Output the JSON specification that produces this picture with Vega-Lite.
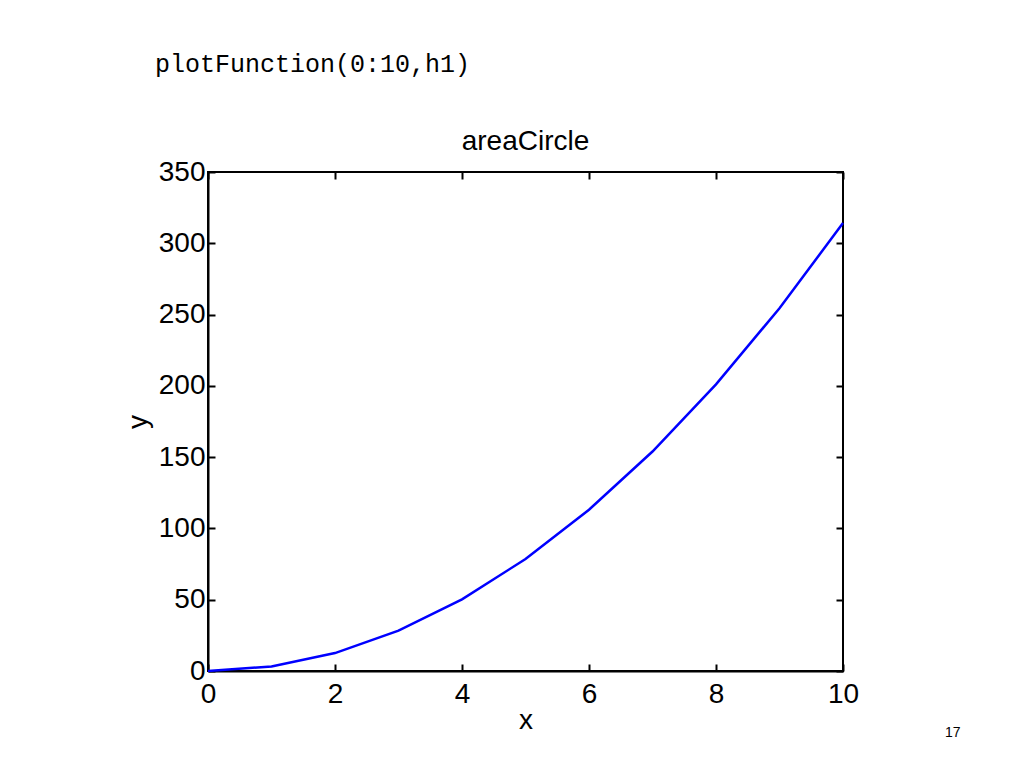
{
  "$schema": "https://vega.github.io/schema/vega-lite/v6.json",
  "width": 635,
  "height": 499,
  "autosize": {"type": "none"},
  "padding": {"left": 208, "top": 172, "right": 181, "bottom": 97},
  "background": "white",
  "datasets": {
    "curve": [
      {"x": 0, "y": 0},
      {"x": 1, "y": 3.14},
      {"x": 2, "y": 12.57},
      {"x": 3, "y": 28.27},
      {"x": 4, "y": 50.27},
      {"x": 5, "y": 78.54},
      {"x": 6, "y": 113.1},
      {"x": 7, "y": 153.94},
      {"x": 8, "y": 201.06},
      {"x": 9, "y": 254.47},
      {"x": 10, "y": 314.16}
    ],
    "notes": [
      {"x": 5, "y": 371, "label": "areaCircle", "kind": "plottitle"},
      {"x": 11.73, "y": -43.5, "label": "17", "kind": "page"}
    ]
  },
  "title": {
    "text": "plotFunction(0:10,h1)",
    "font": "Liberation Mono",
    "fontSize": 25,
    "fontWeight": "normal",
    "color": "black",
    "anchor": "start",
    "frame": "group",
    "dx": -53,
    "offset": 51
  },
  "config": {
    "view": {"stroke": "black", "strokeWidth": 2},
    "axis": {
      "grid": false,
      "domainColor": "black",
      "domainWidth": 2,
      "tickColor": "black",
      "tickWidth": 2,
      "labelFont": "Liberation Sans",
      "labelFontSize": 28,
      "labelColor": "black",
      "titleFont": "Liberation Sans",
      "titleFontSize": 28,
      "titleFontWeight": "normal",
      "titleColor": "black"
    }
  },
  "layer": [
    {
      "data": {"name": "curve"},
      "mark": {"type": "line", "color": "#0000FF", "strokeWidth": 2.5},
      "encoding": {
        "x": {
          "field": "x",
          "type": "quantitative",
          "scale": {"domain": [0, 10], "nice": false},
          "axis": {
            "orient": "bottom",
            "values": [0, 2, 4, 6, 8, 10],
            "tickSize": -7,
            "labelPadding": 16,
            "labelFlush": false,
            "title": "x",
            "titlePadding": -2
          }
        },
        "y": {
          "field": "y",
          "type": "quantitative",
          "scale": {"domain": [0, 350], "nice": false},
          "axis": {
            "orient": "left",
            "values": [0, 50, 100, 150, 200, 250, 300, 350],
            "tickSize": -7,
            "labelPadding": 10,
            "labelFlush": false,
            "title": "y",
            "titlePadding": 6
          }
        }
      }
    },
    {
      "data": {"values": [{"v": 0}]},
      "mark": {"type": "rule", "opacity": 0},
      "encoding": {
        "x": {
          "field": "v",
          "type": "quantitative",
          "scale": {"domain": [0, 10], "nice": false},
          "axis": {"orient": "top", "values": [0, 2, 4, 6, 8, 10], "tickSize": -7, "labels": false, "domain": false, "title": null}
        },
        "y": {
          "field": "v",
          "type": "quantitative",
          "scale": {"domain": [0, 350], "nice": false},
          "axis": {"orient": "right", "values": [0, 50, 100, 150, 200, 250, 300, 350], "tickSize": -7, "labels": false, "domain": false, "title": null}
        }
      }
    },
    {
      "data": {"name": "notes"},
      "transform": [{"filter": "datum.kind === 'plottitle'"}],
      "mark": {"type": "text", "font": "Liberation Sans", "fontSize": 28, "align": "center", "baseline": "middle", "color": "black", "clip": false},
      "encoding": {
        "x": {"field": "x", "type": "quantitative", "axis": null},
        "y": {"field": "y", "type": "quantitative", "axis": null},
        "text": {"field": "label"}
      }
    },
    {
      "data": {"name": "notes"},
      "transform": [{"filter": "datum.kind === 'page'"}],
      "mark": {"type": "text", "font": "Liberation Sans", "fontSize": 14, "align": "center", "baseline": "middle", "color": "black", "clip": false},
      "encoding": {
        "x": {"field": "x", "type": "quantitative", "axis": null},
        "y": {"field": "y", "type": "quantitative", "axis": null},
        "text": {"field": "label"}
      }
    }
  ],
  "resolve": {"axis": {"x": "independent", "y": "independent"}}
}
